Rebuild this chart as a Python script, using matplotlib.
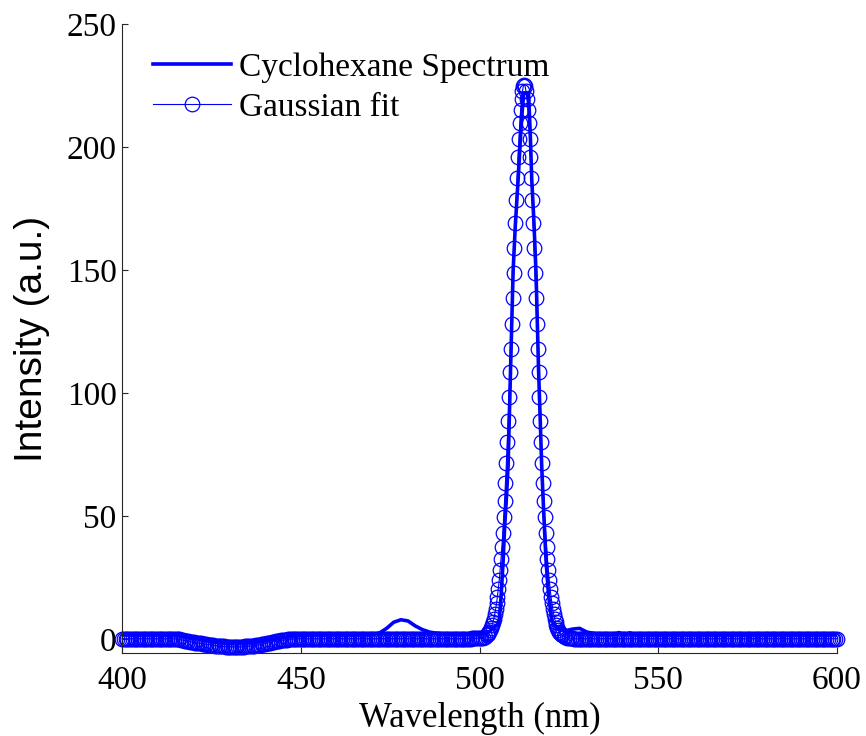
import matplotlib
matplotlib.use('Agg')
import matplotlib.pyplot as plt


# Measured spectrum (thick line)
spec_x = [400, 405, 410, 415, 418, 420, 423, 425, 428, 430, 433, 435, 438, 440,
          443, 445, 448, 450, 455, 460, 465, 470, 472, 474, 476, 478, 480, 482,
          484, 486, 488, 490, 495, 500, 502, 503, 504, 505, 505.5, 506, 506.6,
          507, 507.5, 508, 508.5, 509, 509.4, 510, 510.8, 511.5, 512, 512.4,
          512.8, 513.2, 513.7, 514.2, 514.6, 515.2, 515.8, 516.5, 517, 517.4,
          518, 518.6, 519.3, 520.2, 521, 522, 524, 526, 528, 530, 533, 536,
          538, 539, 540, 541, 542, 543, 545, 550, 560, 570, 580, 590, 600]
spec_y = [1.8, 1.8, 1.8, 1.6, 1.0, 0.4, -0.4, -0.9, -1.4, -1.6, -1.6, -1.4,
          -1.0, -0.5, 0.2, 0.8, 1.4, 1.6, 1.8, 1.8, 1.8, 2.0, 2.6, 4.5, 7.0,
          8.0, 7.5, 5.5, 4.0, 3.0, 2.5, 2.3, 2.0, 2.0, 2.5, 3.5, 5.0, 6.0,
          8.0, 17.0, 32.0, 45.0, 57.0, 71.0, 100.0, 128.0, 150.0, 168.0, 187.0,
          205.0, 216.0, 222.0, 222.0, 222.0, 222.0, 205.0, 187.0, 170.0, 149.0,
          110.0, 88.0, 70.0, 50.0, 32.0, 18.0, 8.0, 5.5, 4.5, 3.5, 4.2, 4.5,
          3.0, 2.2, 2.0, 2.2, 2.8, 2.2, 2.0, 2.7, 2.0, 1.8, 1.8, 1.8, 1.8,
          1.8, 1.8, 1.8]

# Gaussian fit (open circles), left baseline / peak / right baseline
fit_x = [
    400.0, 400.5, 401.0, 401.5, 402.0, 402.5, 403.0, 403.5, 404.0, 404.5,
    405.0, 405.5, 406.0, 406.5, 407.0, 407.5, 408.0, 408.5, 409.0, 409.5,
    410.0, 410.5, 411.0, 411.5, 412.0, 412.5, 413.0, 413.5, 414.0, 414.5,
    415.0, 415.5, 416.0, 416.5, 417.0, 417.5, 418.0, 418.5, 419.0, 419.5,
    420.0, 420.5, 421.0, 421.5, 422.0, 422.5, 423.0, 423.5, 424.0, 424.5,
    425.0, 425.5, 426.0, 426.5, 427.0, 427.5, 428.0, 428.5, 429.0, 429.5,
    430.0, 430.5, 431.0, 431.5, 432.0, 432.5, 433.0, 433.5, 434.0, 434.5,
    435.0, 435.5, 436.0, 436.5, 437.0, 437.5, 438.0, 438.5, 439.0, 439.5,
    440.0, 440.5, 441.0, 441.5, 442.0, 442.5, 443.0, 443.5, 444.0, 444.5,
    445.0, 445.5, 446.0, 446.5, 447.0, 447.5, 448.0, 448.5, 449.0, 449.5,
    450.0, 450.5, 451.0, 451.5, 452.0, 452.5, 453.0, 453.5, 454.0, 454.5,
    455.0, 455.5, 456.0, 456.5, 457.0, 457.5, 458.0, 458.5, 459.0, 459.5,
    460.0, 460.5, 461.0, 461.5, 462.0, 462.5, 463.0, 463.5, 464.0, 464.5,
    465.0, 465.5, 466.0, 466.5, 467.0, 467.5, 468.0, 468.5, 469.0, 469.5,
    470.0, 470.5, 471.0, 471.5, 472.0, 472.5, 473.0, 473.5, 474.0, 474.5,
    475.0, 475.5, 476.0, 476.5, 477.0, 477.5, 478.0, 478.5, 479.0, 479.5,
    480.0, 480.5, 481.0, 481.5, 482.0, 482.5, 483.0, 483.5, 484.0, 484.5,
    485.0, 485.5, 486.0, 486.5, 487.0, 487.5, 488.0, 488.5, 489.0, 489.5,
    490.0, 490.5, 491.0, 491.5, 492.0, 492.5, 493.0, 493.5, 494.0, 494.5,
    495.0, 495.5, 496.0, 496.5, 497.0, 497.5, 498.0, 498.5, 499.0, 499.5,
    500.0, 500.5, 501.0, 501.5,
    502.0, 502.25, 502.5, 502.75, 503.0, 503.25, 503.5, 503.75,
    504.0, 504.25, 504.5, 504.75, 505.0, 505.25, 505.5, 505.75,
    506.0, 506.25, 506.5, 506.75, 507.0, 507.25, 507.5, 507.75,
    508.0, 508.25, 508.5, 508.75, 509.0, 509.25, 509.5, 509.75,
    510.0, 510.25, 510.5, 510.75, 511.0, 511.25, 511.5, 511.75,
    512.0, 512.25, 512.5, 512.75, 513.0, 513.25, 513.5, 513.75,
    514.0, 514.25, 514.5, 514.75, 515.0, 515.25, 515.5, 515.75,
    516.0, 516.25, 516.5, 516.75, 517.0, 517.25, 517.5, 517.75,
    518.0, 518.25, 518.5, 518.75, 519.0, 519.25, 519.5, 519.75,
    520.0, 520.25, 520.5, 520.75, 521.0, 521.25, 521.5, 521.75,
    522.0, 522.25, 522.5, 522.75, 523.0,
    523.5, 524.0, 524.5,
    525.0, 525.5, 526.0, 526.5, 527.0, 527.5, 528.0, 528.5, 529.0, 529.5,
    530.0, 530.5, 531.0, 531.5, 532.0, 532.5, 533.0, 533.5, 534.0, 534.5,
    535.0, 535.5, 536.0, 536.5, 537.0, 537.5, 538.0, 538.5, 539.0, 539.5,
    540.0, 540.5, 541.0, 541.5, 542.0, 542.5, 543.0, 543.5, 544.0, 544.5,
    545.0, 545.5, 546.0, 546.5, 547.0, 547.5, 548.0, 548.5, 549.0, 549.5,
    550.0, 550.5, 551.0, 551.5, 552.0, 552.5, 553.0, 553.5, 554.0, 554.5,
    555.0, 555.5, 556.0, 556.5, 557.0, 557.5, 558.0, 558.5, 559.0, 559.5,
    560.0, 560.5, 561.0, 561.5, 562.0, 562.5, 563.0, 563.5, 564.0, 564.5,
    565.0, 565.5, 566.0, 566.5, 567.0, 567.5, 568.0, 568.5, 569.0, 569.5,
    570.0, 570.5, 571.0, 571.5, 572.0, 572.5, 573.0, 573.5, 574.0, 574.5,
    575.0, 575.5, 576.0, 576.5, 577.0, 577.5, 578.0, 578.5, 579.0, 579.5,
    580.0, 580.5, 581.0, 581.5, 582.0, 582.5, 583.0, 583.5, 584.0, 584.5,
    585.0, 585.5, 586.0, 586.5, 587.0, 587.5, 588.0, 588.5, 589.0, 589.5,
    590.0, 590.5, 591.0, 591.5, 592.0, 592.5, 593.0, 593.5, 594.0, 594.5,
    595.0, 595.5, 596.0, 596.5, 597.0, 597.5, 598.0, 598.5, 599.0, 599.5,
    600.0]
fit_y = [
    0.3, 0.3, 0.3, 0.3, 0.3, 0.3, 0.3, 0.3, 0.3, 0.3,
    0.3, 0.3, 0.3, 0.3, 0.3, 0.3, 0.3, 0.3, 0.3, 0.3,
    0.3, 0.3, 0.3, 0.3, 0.3, 0.3, 0.3, 0.3, 0.3, 0.3,
    0.2, 0.1, 0.0, -0.15, -0.3, -0.45, -0.6, -0.75, -0.9, -1.05,
    -1.2, -1.3, -1.4, -1.5, -1.6, -1.75, -1.9, -2.0, -2.1, -2.2,
    -2.3, -2.4, -2.5, -2.6, -2.7, -2.75, -2.8, -2.85, -2.9, -2.95,
    -3.0, -3.0, -3.0, -3.0, -3.0, -3.0, -3.0, -3.0, -2.9, -2.85,
    -2.8, -2.75, -2.7, -2.6, -2.5, -2.4, -2.3, -2.15, -2.0, -1.85,
    -1.7, -1.55, -1.4, -1.25, -1.1, -0.95, -0.8, -0.65, -0.5, -0.4,
    -0.3, -0.2, -0.1, 0.0, 0.1, 0.15, 0.2, 0.25, 0.3, 0.3,
    0.3, 0.3, 0.3, 0.3, 0.3, 0.3, 0.3, 0.3, 0.3, 0.3,
    0.3, 0.3, 0.3, 0.3, 0.3, 0.3, 0.3, 0.3, 0.3, 0.3,
    0.3, 0.3, 0.3, 0.3, 0.3, 0.3, 0.3, 0.3, 0.3, 0.3,
    0.3, 0.3, 0.3, 0.3, 0.3, 0.3, 0.3, 0.3, 0.3, 0.3,
    0.3, 0.3, 0.3, 0.3, 0.3, 0.3, 0.3, 0.3, 0.3, 0.3,
    0.3, 0.3, 0.3, 0.3, 0.3, 0.3, 0.3, 0.3, 0.3, 0.3,
    0.3, 0.3, 0.3, 0.3, 0.3, 0.3, 0.3, 0.3, 0.3, 0.3,
    0.3, 0.3, 0.3, 0.3, 0.3, 0.3, 0.3, 0.3, 0.3, 0.3,
    0.3, 0.3, 0.3, 0.3, 0.3, 0.3, 0.3, 0.3, 0.3, 0.3,
    0.3, 0.3, 0.3, 0.3, 0.3, 0.3, 0.4, 0.4, 0.4, 0.45,
    0.5, 0.6, 0.7, 1.1,
    1.7, 2.1, 2.6, 3.2, 3.9, 4.7, 5.8, 7.0,
    8.5, 10.2, 12.2, 14.6, 17.3, 20.5, 24.0, 28.1,
    32.6, 37.7, 43.4, 49.6, 56.3, 63.6, 71.5, 80.2,
    88.9, 98.3, 108.6, 118.1, 128.3, 138.7, 148.9, 159.1,
    169.1, 178.6, 187.5, 195.8, 203.2, 209.7, 215.2, 219.6,
    222.7, 224.7, 225.3, 224.7, 222.7, 219.6, 215.2, 209.7,
    203.2, 195.8, 187.5, 178.6, 169.1, 159.1, 148.9, 138.7,
    128.3, 118.1, 108.6, 98.3, 88.9, 80.2, 71.5, 63.6,
    56.3, 49.6, 43.4, 37.7, 32.6, 28.1, 24.0, 20.5,
    17.3, 14.6, 12.2, 10.2, 8.5, 7.0, 5.8, 4.7,
    3.9, 3.2, 2.6, 2.1, 1.7,
    1.3, 0.9, 0.7,
    0.6, 0.5, 0.4, 0.35, 0.3, 0.3, 0.3, 0.3, 0.3, 0.3,
    0.3, 0.3, 0.3, 0.3, 0.3, 0.3, 0.3, 0.3, 0.3, 0.3,
    0.3, 0.3, 0.3, 0.3, 0.3, 0.3, 0.3, 0.3, 0.3, 0.3,
    0.3, 0.3, 0.3, 0.3, 0.3, 0.3, 0.3, 0.3, 0.3, 0.3,
    0.3, 0.3, 0.3, 0.3, 0.3, 0.3, 0.3, 0.3, 0.3, 0.3,
    0.3, 0.3, 0.3, 0.3, 0.3, 0.3, 0.3, 0.3, 0.3, 0.3,
    0.3, 0.3, 0.3, 0.3, 0.3, 0.3, 0.3, 0.3, 0.3, 0.3,
    0.3, 0.3, 0.3, 0.3, 0.3, 0.3, 0.3, 0.3, 0.3, 0.3,
    0.3, 0.3, 0.3, 0.3, 0.3, 0.3, 0.3, 0.3, 0.3, 0.3,
    0.3, 0.3, 0.3, 0.3, 0.3, 0.3, 0.3, 0.3, 0.3, 0.3,
    0.3, 0.3, 0.3, 0.3, 0.3, 0.3, 0.3, 0.3, 0.3, 0.3,
    0.3, 0.3, 0.3, 0.3, 0.3, 0.3, 0.3, 0.3, 0.3, 0.3,
    0.3, 0.3, 0.3, 0.3, 0.3, 0.3, 0.3, 0.3, 0.3, 0.3,
    0.3, 0.3, 0.3, 0.3, 0.3, 0.3, 0.3, 0.3, 0.3, 0.3,
    0.3, 0.3, 0.3, 0.3, 0.3, 0.3, 0.3, 0.3, 0.3, 0.3,
    0.3]

x_ticks = [400, 450, 500, 550, 600]
y_ticks = [0, 50, 100, 150, 200, 250]

plt.rcParams['font.family'] = 'Liberation Serif'

fig = plt.figure(figsize=(8.66, 7.36), dpi=100)
ax = fig.add_axes([0.141, 0.1128, 0.8255, 0.8546])

ax.plot(spec_x, spec_y, color='#0000ff', linewidth=2.6,
        label='Cyclohexane Spectrum')
ax.plot(fit_x, fit_y, color='#0000ff', linewidth=0.8, marker='o',
        markersize=10.5, markerfacecolor='none', markeredgewidth=0.9,
        clip_on=False, label='Gaussian fit')

ax.set_xlim(400, 600)
ax.set_ylim(-5.5, 250)
ax.set_xticks(x_ticks)
ax.set_yticks(y_ticks)
ax.tick_params(direction='in', length=4, width=0.8, labelsize=24,
               colors='#262626', labelcolor='black')
ax.tick_params(axis='x', pad=9)
ax.tick_params(axis='y', pad=4)
ax.spines['top'].set_visible(False)
ax.spines['right'].set_visible(False)
for side in ['left', 'bottom']:
    ax.spines[side].set_linewidth(0.8)
    ax.spines[side].set_color('#262626')

ax.set_xlabel('Wavelength (nm)', fontsize=25, labelpad=4)
ax.set_ylabel('Intensity (a.u.)', fontsize=28, family='Liberation Sans',
              labelpad=12)

ax.legend(loc='upper left', bbox_to_anchor=(0.01, 0.992), frameon=False,
          fontsize=24, handlelength=2.35, handletextpad=0.25,
          labelspacing=0.28, numpoints=1, borderaxespad=0.3)

fig.savefig('out.png', dpi=100)
